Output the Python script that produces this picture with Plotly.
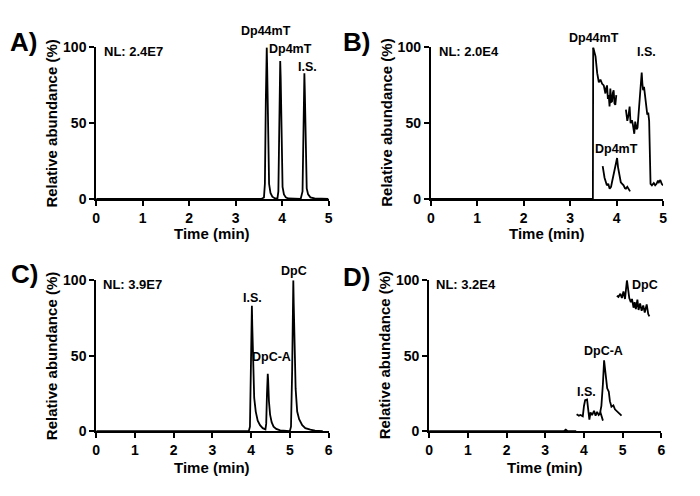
import plotly.graph_objects as go

W, H = 700, 496

# ---------------- data ----------------
# Panel A
A_t = [0, 3.55, 3.61, 3.63, 3.65, 3.67, 3.68, 3.70, 3.72, 3.75, 3.79, 3.84, 3.90, 3.92, 3.94, 3.96, 3.97, 3.99, 4.01, 4.04, 4.08, 4.13, 4.40, 4.44, 4.46, 4.48, 4.49, 4.51, 4.53, 4.56, 4.61, 4.70, 5.0]
A_y = [0, 0, 1, 10, 65, 100, 85, 30, 10, 4, 1.5, 0.5, 0.3, 5, 50, 91, 80, 25, 8, 3, 1, 0.3, 0, 5, 45, 83, 70, 20, 7, 3, 1, 0.3, 0]

# Panel B (noisy segments)
B_base_t = [0, 3.489, 3.496]
B_base_y = [0, 0, 100]
B_dp44_t = [3.496, 3.546, 3.582, 3.617, 3.652, 3.688, 3.723, 3.740, 3.759, 3.775, 3.794, 3.812, 3.830, 3.848, 3.865, 3.883, 3.901, 3.918, 3.936, 3.954, 3.972, 3.993]
B_dp44_y = [100, 94, 83, 77, 78.7, 76, 74.9, 72, 69.6, 73, 74.9, 66, 68.5, 61, 72.8, 64, 64.3, 70, 71.7, 63, 62.1, 68.5]
B_dp4_t = [3.70, 3.74, 3.79, 3.82, 3.85, 3.88, 3.90, 3.93, 3.95, 3.98, 4.01, 4.03, 4.05, 4.07, 4.09, 4.12, 4.15, 4.18, 4.20, 4.23, 4.26, 4.29]
B_dp4_y = [21.7, 14, 9, 10, 6.8, 8, 11, 15, 19.5, 22, 27, 21, 17.4, 13, 11, 10, 9, 7, 6.8, 8, 6, 5]
B_is_t = [4.20, 4.23, 4.26, 4.28, 4.30, 4.33, 4.35, 4.38, 4.40, 4.43, 4.45, 4.47, 4.49, 4.52, 4.54, 4.555, 4.57, 4.59, 4.61, 4.63, 4.66, 4.68, 4.70, 4.73, 4.76, 4.80, 4.83, 4.86, 4.89, 4.91, 4.94, 4.97, 5.0]
B_is_y = [59, 51.5, 56, 61, 50, 52, 49, 43, 51, 46, 47, 55, 60, 72, 83.4, 76, 71.7, 74, 68.5, 62, 55.7, 57, 51.5, 10, 9, 10.5, 9, 10, 12, 11, 12.5, 10, 9]

# Panel C
C_t = [0, 3.94, 3.97, 3.99, 4.01, 4.02, 4.03, 4.05, 4.08, 4.12, 4.17, 4.23, 4.30, 4.37, 4.39, 4.41, 4.43, 4.44, 4.46, 4.49, 4.53, 4.58, 4.65, 4.75, 5.00, 5.03, 5.06, 5.08, 5.09, 5.10, 5.12, 5.15, 5.19, 5.24, 5.32, 5.40, 5.53, 5.65, 5.85]
C_y = [0, 0, 3, 30, 75, 83, 70, 40, 22, 13, 7, 4, 2, 1.2, 5, 25, 38, 34, 20, 11, 6, 3, 1.5, 0.5, 0, 3, 40, 90, 100, 85, 50, 28, 13, 8, 4, 2, 1, 0.3, 0]

# Panel D (noisy segments)
D_base_t = [0, 3.48, 3.53, 3.58, 3.80]
D_base_y = [0, 0, 1, 0, 0]
D_is_t = [3.81, 3.87, 3.91, 3.97, 4.00, 4.03, 4.08, 4.11, 4.14, 4.17, 4.21, 4.26, 4.30, 4.34, 4.38, 4.43, 4.47, 4.49]
D_is_y = [11.3, 10.3, 10.7, 9.8, 16.7, 20.5, 21, 14.5, 7.7, 12.4, 10.7, 13.5, 10.3, 12.8, 10.7, 12, 8.5, 7]
D_dpca_t = [4.41, 4.45, 4.49, 4.52, 4.54, 4.57, 4.60, 4.64, 4.67, 4.71, 4.76, 4.80, 4.84, 4.89, 4.93, 4.97]
D_dpca_y = [11.3, 16.7, 31.6, 47, 42.3, 33.8, 28.4, 26.3, 19.9, 16.2, 17.1, 14.5, 13.5, 12.4, 11.3, 10.3]
D_dpc_t = [4.85, 4.89, 4.94, 4.98, 5.02, 5.06, 5.11, 5.14, 5.17, 5.21, 5.24, 5.28, 5.31, 5.34, 5.38, 5.41, 5.45, 5.49, 5.53, 5.57, 5.62, 5.66, 5.69]
D_dpc_y = [89.7, 88.9, 91, 88.2, 92.5, 87.6, 100, 93.6, 88.2, 85.5, 87.6, 81.8, 85.5, 80.8, 87.2, 80.3, 84.6, 79.7, 83.3, 78.6, 84, 77.6, 76]

# Peak labels: (text, time, abundance)
A_labels = [("Dp44mT", 3.65, 111), ("Dp4mT", 4.18, 99), ("I.S.", 4.55, 87)]
B_labels = [("Dp44mT", 3.51, 106), ("I.S.", 4.65, 97), ("Dp4mT", 4.0, 33)]
C_labels = [("I.S.", 4.04, 88), ("DpC-A", 4.53, 49), ("DpC", 5.1, 106)]
D_labels = [("DpC", 5.57, 97), ("DpC-A", 4.51, 53), ("I.S.", 4.07, 26)]
NL_text = ["NL: 2.4E7", "NL: 2.0E4", "NL: 3.9E7", "NL: 3.2E4"]
panel_letters = ["A)", "B)", "C)", "D)"]
x_max = [5, 5, 6, 6]
y_ticks = [0, 50, 100]

# ---------------- layout geometry (pixels) ----------------
FONT = "Liberation Sans, Arial, sans-serif"
# (left, right, top, bottom) of each plot area in pixels
boxes = [(93.3, 328.3, 40.7, 197.3), (431.7, 666.7, 40.7, 197.3),
         (93.3, 328.3, 281.3, 437.3), (430.0, 665.0, 281.3, 437.3)]
letter_pos = [(20, 35), (357, 35), (21, 275), (357, 278)]
ytitle_x = [48, 387, 48, 385]
xtitle_y = [233, 233, 475, 475]

def px(x):
    return x / W

def py(y):
    return 1 - y / H

fig = go.Figure()

series = [
    [(A_t, A_y)],
    [(B_base_t, B_base_y), (B_dp44_t, B_dp44_y), (B_dp4_t, B_dp4_y), (B_is_t, B_is_y)],
    [(C_t, C_y)],
    [(D_base_t, D_base_y), (D_is_t, D_is_y), (D_dpca_t, D_dpca_y), (D_dpc_t, D_dpc_y)],
]
labels = [A_labels, B_labels, C_labels, D_labels]

annotations = []
for i in range(4):
    sfx = "" if i == 0 else str(i + 1)
    xa, ya = "x" + sfx, "y" + sfx
    for t, y in series[i]:
        fig.add_trace(go.Scatter(x=t, y=y, mode="lines", xaxis=xa, yaxis=ya,
                                 line=dict(color="black", width=1.8), showlegend=False,
                                 hoverinfo="skip"))
    l, r, tp, b = boxes[i]
    axis_common = dict(showline=True, linecolor="black", linewidth=2, ticks="outside",
                       ticklen=5, tickwidth=2, tickcolor="black", showgrid=False,
                       zeroline=False, fixedrange=True,
                       tickfont=dict(family=FONT, size=14, color="black", weight="bold"))
    fig.layout["xaxis" + sfx] = dict(domain=[px(l), px(r)], anchor=ya, range=[0, x_max[i]],
                                     tickvals=list(range(0, x_max[i] + 1)), **axis_common)
    fig.layout["yaxis" + sfx] = dict(domain=[py(b), py(tp)], anchor=xa, range=[0, 100],
                                     tickvals=y_ticks, **axis_common)

    # map data coords to paper coords so labels above the range stay visible
    def to_paper(t, y, l=l, r=r, tp=tp, b=b, xm=x_max[i]):
        return px(l + (r - l) * t / xm), py(b - (b - tp) * y / 100.0)

    for txt, t, y in labels[i]:
        xp, yp = to_paper(t, y)
        annotations.append(dict(text=txt, x=xp, y=yp, xref="paper", yref="paper", showarrow=False,
                                xanchor="center", yanchor="middle",
                                font=dict(family=FONT, size=12.5, color="black", weight="bold")))
    xp, yp = to_paper(0.12 if i % 2 == 0 else 0.13, 97)
    annotations.append(dict(text=NL_text[i], x=xp, y=yp, xref="paper", yref="paper",
                            showarrow=False, xanchor="left", yanchor="middle",
                            font=dict(family=FONT, size=13, color="black", weight="bold")))
    lx, ly = letter_pos[i]
    annotations.append(dict(text=panel_letters[i], x=px(lx), y=py(ly), xref="paper", yref="paper",
                            showarrow=False, xanchor="center", yanchor="middle",
                            font=dict(family=FONT, size=26, color="black", weight="bold")))
    annotations.append(dict(text="Relative abundance (%)", x=px(ytitle_x[i]), y=py((tp + b) / 2),
                            xref="paper", yref="paper", showarrow=False, textangle=-90,
                            xanchor="center", yanchor="middle",
                            font=dict(family=FONT, size=15, color="black", weight="bold")))
    annotations.append(dict(text="Time (min)", x=px((l + r) / 2), y=py(xtitle_y[i]),
                            xref="paper", yref="paper", showarrow=False,
                            xanchor="center", yanchor="middle",
                            font=dict(family=FONT, size=15, color="black", weight="bold")))

fig.update_layout(width=W, height=H, margin=dict(l=0, r=0, t=0, b=0),
                  paper_bgcolor="white", plot_bgcolor="white",
                  annotations=annotations, showlegend=False)

fig.write_html("out.html", config={"displayModeBar": False},
               post_script="document.body.style.margin='0';document.body.style.padding='0';")
